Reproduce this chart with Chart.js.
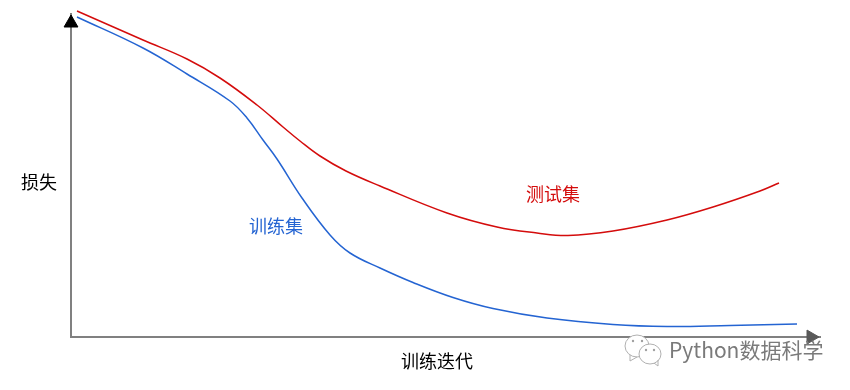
<!DOCTYPE html>
<html>
<head>
<meta charset="utf-8">
<script src="https://cdn.jsdelivr.net/npm/chart.js@4"></script>
<style>
  html, body { margin: 0; padding: 0; background: #fff; }
  #box { width: 850px; height: 390px; }
</style>
</head>
<body>
<div id="box"><canvas id="grafico"></canvas></div>
<script>
// Valores: x = iteração, y = perda (unidades sem escala no original)
var testeX = [6, 72, 116, 149, 186, 212, 229, 249, 275, 309, 376, 426, 466, 497, 542, 596, 642, 689, 708];
var testeY = [326, 297, 278, 259, 232, 210, 196, 181, 166, 151, 124, 110, 104, 101.5, 106, 117, 130, 146, 154];

var treinoX = [6, 72, 116, 159, 176, 192, 206, 231, 259, 279, 309, 342, 382, 422, 476, 542, 596, 659, 726];
var treinoY = [320, 289, 263, 236, 219, 197, 178, 139, 102, 84, 69, 54.5, 39.5, 28.5, 19, 12.5, 10.5, 11.5, 13];

var rotuloEixoX = '训练迭代';
var rotuloEixoY = '损失';
var rotuloTeste = '测试集';
var rotuloTreino = '训练集';
var marcaDagua = 'Python数据科学';

var corTeste = '#d40c0c';
var corTreino = '#2464d2';
var fonte = '"Noto Sans CJK SC", sans-serif';

function pontos(xs, ys) {
    var lista = [];
    for (var i = 0; i < xs.length; i++) {
        lista.push({ x: xs[i], y: ys[i] });
    }
    return lista;
}

// Textos soltos e a marca d'água
const textos = {
    id: 'textos',
    afterDatasetsDraw(chart) {
        const c = chart.ctx;
        const sx = chart.scales.x;
        const sy = chart.scales.y;
        c.save();
        c.textBaseline = 'middle';
        c.textAlign = 'center';
        c.font = '18px ' + fonte;

        c.fillStyle = '#000';
        c.fillText(rotuloEixoY, 39, 182);
        c.fillText(rotuloEixoX, 437, 361);

        c.fillStyle = corTeste;
        c.fillText(rotuloTeste, sx.getPixelForValue(482), sy.getPixelForValue(143));

        c.fillStyle = corTreino;
        c.fillText(rotuloTreino, sx.getPixelForValue(205), sy.getPixelForValue(111));

        // logo do wechat
        c.strokeStyle = '#b0b0b0';
        c.fillStyle = '#fff';
        c.lineWidth = 1;
        c.beginPath();
        c.ellipse(637, 346, 12, 11, 0, 0, Math.PI * 2);
        c.fill();
        c.stroke();
        c.beginPath();
        c.moveTo(630, 355);
        c.lineTo(630, 361);
        c.lineTo(637, 357);
        c.stroke();
        c.beginPath();
        c.ellipse(650, 354, 11, 10, 0, 0, Math.PI * 2);
        c.fill();
        c.stroke();
        c.beginPath();
        c.moveTo(654, 363);
        c.lineTo(658, 366);
        c.lineTo(658, 360);
        c.stroke();
        c.fillStyle = '#a0a0a0';
        [[633, 341], [642, 341], [646, 350], [654, 350]].forEach(function (p) {
            c.beginPath();
            c.arc(p[0], p[1], 1.2, 0, Math.PI * 2);
            c.fill();
        });

        c.textAlign = 'left';
        c.fillStyle = '#7a7a7a';
        c.font = '21px ' + fonte;
        c.fillText(marcaDagua, 669, 350);
        c.restore();
    }
};

new Chart(document.getElementById('grafico'), {
    type: 'line',
    data: {
        datasets: [
            {
                label: rotuloTeste,
                data: pontos(testeX, testeY),
                borderColor: corTeste,
                borderWidth: 1.5,
                pointRadius: 0,
                tension: 0.4,
                clip: false
            },
            {
                label: rotuloTreino,
                data: pontos(treinoX, treinoY),
                borderColor: corTreino,
                borderWidth: 1.5,
                pointRadius: 0,
                tension: 0.4,
                clip: false
            },
            {
                // ponta da seta do eixo y
                data: [{ x: 0, y: 314 }],
                showLine: false,
                pointStyle: 'triangle',
                pointRadius: 8,
                pointBackgroundColor: '#000',
                pointBorderColor: '#000',
                clip: false
            },
            {
                // ponta da seta do eixo x
                data: [{ x: 740, y: 0 }],
                showLine: false,
                pointStyle: 'triangle',
                pointRadius: 8,
                pointRotation: 90,
                pointBackgroundColor: '#595959',
                pointBorderColor: '#595959',
                clip: false
            }
        ]
    },
    options: {
        responsive: true,
        maintainAspectRatio: false,
        animation: false,
        layout: { padding: { left: 63, right: 30, top: 14, bottom: 45 } },
        plugins: {
            legend: { display: false },
            tooltip: { enabled: false }
        },
        scales: {
            x: {
                type: 'linear',
                min: 0,
                max: 749,
                grid: { display: false },
                border: { color: '#808080', width: 2 },
                ticks: { display: false }
            },
            y: {
                type: 'linear',
                min: 0,
                max: 323,
                grid: { display: false },
                border: { color: '#808080', width: 2 },
                ticks: { display: false }
            }
        }
    },
    plugins: [textos]
});
</script>
</body>
</html>
